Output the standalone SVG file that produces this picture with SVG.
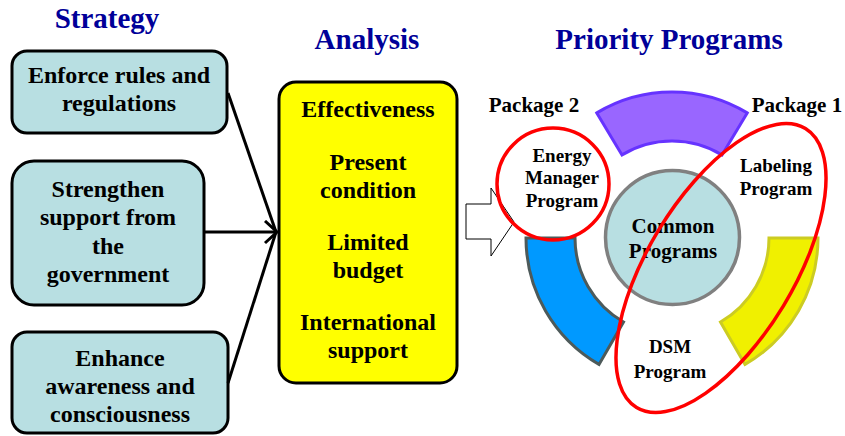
<svg xmlns="http://www.w3.org/2000/svg" width="845" height="436" viewBox="0 0 845 436">
  <style>
    text { font-family: "Liberation Serif", "Times New Roman", serif; font-weight: bold; text-anchor: middle; fill: #000; }
    .title { font-size: 29px; fill: #000099; }
    .body { font-size: 24px; }
    .prog { font-size: 19px; }
    .pkg { font-size: 21px; }
    .strat { fill: #B8DFE2; stroke: #000; stroke-width: 3; }
    .link { fill: none; stroke: #000; stroke-width: 3; }
    .pkgline { fill: none; stroke: #FF0000; stroke-width: 3.5; }
  </style>
  <defs>
    <marker id="chevron" markerUnits="userSpaceOnUse" markerWidth="20" markerHeight="26" refX="14" refY="12" orient="auto">
      <path d="M2,1 L14,12 L2,23" fill="none" stroke="#000" stroke-width="3"/>
    </marker>
  </defs>

  <rect width="845" height="436" fill="#fff"/>

  <!-- column headings -->
  <text class="title" x="107" y="28">Strategy</text>
  <text class="title" x="367" y="49">Analysis</text>
  <text class="title" x="669" y="49">Priority Programs</text>

  <!-- strategy nodes -->
  <g id="enforce">
    <rect class="strat" x="12" y="51" width="215" height="82" rx="15"/>
    <text class="body" x="119" y="83">Enforce rules and</text>
    <text class="body" x="119" y="111">regulations</text>
  </g>
  <g id="strengthen">
    <rect class="strat" x="12" y="161" width="192" height="144" rx="22"/>
    <text class="body" x="108" y="197">Strengthen</text>
    <text class="body" x="108" y="225">support from</text>
    <text class="body" x="108" y="254">the</text>
    <text class="body" x="108" y="282">government</text>
  </g>
  <g id="enhance">
    <rect class="strat" x="12" y="332" width="216" height="101" rx="15"/>
    <text class="body" x="120" y="366">Enhance</text>
    <text class="body" x="120" y="394">awareness and</text>
    <text class="body" x="120" y="422">consciousness</text>
  </g>

  <!-- analysis node -->
  <g id="analysis">
    <rect x="279" y="82" width="178" height="301" rx="17" fill="#FFFF00" stroke="#000" stroke-width="3"/>
    <text class="body" x="368" y="117">Effectiveness</text>
    <text class="body" x="368" y="170">Present</text>
    <text class="body" x="368" y="198">condition</text>
    <text class="body" x="368" y="250">Limited</text>
    <text class="body" x="368" y="278">budget</text>
    <text class="body" x="368" y="330">International</text>
    <text class="body" x="368" y="358">support</text>
  </g>

  <!-- connectors -->
  <g id="connectors">
    <line class="link" x1="228" y1="93" x2="276" y2="232"/>
    <line class="link" x1="228" y1="383" x2="276" y2="232"/>
    <line class="link" x1="204" y1="232" x2="277" y2="232" marker-end="url(#chevron)"/>
    <path id="block-arrow" d="M466,204 L491,204 L491,188 L514,222 L491,256 L491,239 L466,239 Z" fill="#fff" stroke="#000" stroke-width="1"/>
  </g>

  <!-- program ring -->
  <g id="ring">
    <path id="seg-top" d="M596.8,112.9 A146,146 0 0 1 747.2,112.9 L722,154.9 A97,97 0 0 0 622,154.9 Z" fill="#9966FF" stroke="#6633FF" stroke-width="3"/>
    <path id="seg-right" d="M818,238 A146,146 0 0 1 745,364.4 L720.5,322 A97,97 0 0 0 769,238 Z" fill="#F0F000" stroke="#CCCC22" stroke-width="3"/>
    <path id="seg-left" d="M526,238 L575,238 A97,97 0 0 0 623.5,322 L599,364.4 A146,146 0 0 1 526,238 Z" fill="#0099FF" stroke="#4D5A5A" stroke-width="3"/>
  </g>

  <g id="common">
    <circle cx="672.5" cy="237.5" r="67" fill="#B8DFE2" stroke="#808080" stroke-width="3.5"/>
    <text x="673" y="233" style="font-size:21px">Common</text>
    <text x="673" y="258" style="font-size:21px">Programs</text>
  </g>

  <g id="energy-manager">
    <text class="prog" x="562" y="162">Energy</text>
    <text class="prog" x="562" y="184">Manager</text>
    <text class="prog" x="562" y="207">Program</text>
  </g>
  <g id="labeling">
    <text class="prog" x="776" y="172">Labeling</text>
    <text class="prog" x="776" y="195">Program</text>
  </g>
  <g id="dsm">
    <text class="prog" x="670" y="353">DSM</text>
    <text class="prog" x="670" y="378">Program</text>
  </g>

  <!-- package groupings -->
  <g id="package-2">
    <text class="pkg" x="534" y="112">Package 2</text>
    <circle class="pkgline" cx="553" cy="184" r="56"/>
  </g>
  <g id="package-1">
    <text class="pkg" x="797" y="112">Package 1</text>
    <ellipse class="pkgline" cx="721" cy="268" rx="163" ry="73" transform="rotate(-58.8 721 268)"/>
  </g>
</svg>
